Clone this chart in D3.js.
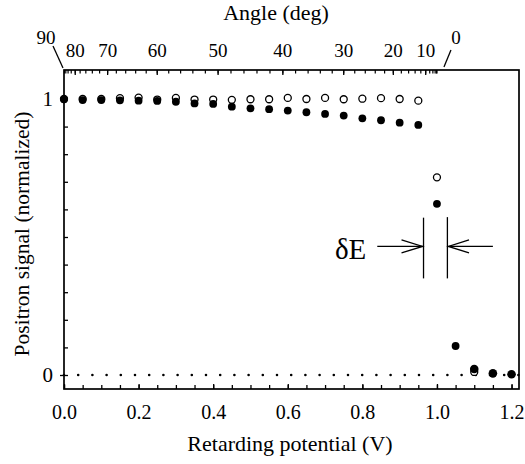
<!DOCTYPE html>
<html><head><meta charset="utf-8">
<script src="https://cdn.jsdelivr.net/npm/d3@7"></script>
<style>
body{margin:0;background:#fff;}
svg text{font-family:"Liberation Serif","Times New Roman","DejaVu Serif",serif !important;}
</style></head>
<body><svg id="c" width="525" height="464"></svg>
<script>
// ---- data ----
const filledV = [0,0.05,0.1,0.15,0.2,0.25,0.3,0.35,0.4,0.45,0.5,0.55,0.6,0.65,0.7,0.75,0.8,0.85,0.9,0.95,1.0,1.05,1.1,1.15,1.2];
const filledS = [0.999,0.996,0.996,0.995,0.994,0.993,0.990,0.984,0.982,0.972,0.966,0.963,0.958,0.952,0.946,0.940,0.930,0.923,0.914,0.906,0.620,0.105,0.022,0.006,0.003];
const openV = [0,0.05,0.1,0.15,0.2,0.25,0.3,0.35,0.4,0.45,0.5,0.55,0.6,0.65,0.7,0.75,0.8,0.85,0.9,0.95,1.0,1.1];
const openS = [1.0,1.0,1.0,1.003,1.005,0.998,1.004,0.998,0.998,0.997,0.999,0.999,1.004,1.0,1.004,0.999,1.001,1.003,1.0,0.994,0.716,0.011];
const xTicks = [0.0,0.2,0.4,0.6,0.8,1.0,1.2];
const xTickLabels = ["0.0","0.2","0.4","0.6","0.8","1.0","1.2"];
const yTicks = [0,1];
const angleTicks = [80,70,60,50,40,30,20,10];
const angleEnds = [90,0];
const cutoffV = 1.0; // angle axis: V = cutoffV * cos^2(angle)

const FONT = "Liberation Serif, Times New Roman, DejaVu Serif, serif";
const svg = d3.select("#c").attr("font-family",FONT);
const x = d3.scaleLinear().domain([0,1.22]).range([64,519]);
const y = d3.scaleLinear().domain([-0.0507,1.105]).range([389,70]);
const ang = a => x(cutoffV*Math.pow(Math.cos(a*Math.PI/180),2));

// frame
svg.append("rect").attr("x",64).attr("y",70).attr("width",455).attr("height",319)
  .attr("fill","none").attr("stroke","#000").attr("stroke-width",1.7);

// bottom axis
const bMinor = svg.append("g").attr("transform","translate(0,389)")
  .call(d3.axisBottom(x).tickValues(d3.range(0,1.2001,0.05)).tickSize(-4).tickFormat(""));
const bMajor = svg.append("g").attr("transform","translate(0,389)")
  .call(d3.axisBottom(x).tickValues(xTicks).tickSize(-5).tickPadding(14).tickFormat((d,i)=>xTickLabels[i]));
[bMinor,bMajor].forEach(g=>{g.attr("font-family",FONT); g.select(".domain").remove(); g.selectAll("line").attr("stroke-width",1.3);});
bMajor.selectAll("text").attr("font-size",20).attr("dy",null).attr("y",30);

// left axis
const lMinor = svg.append("g").attr("transform","translate(64,0)")
  .call(d3.axisLeft(y).tickValues(d3.range(0,1.0001,0.1)).tickSize(-4).tickFormat(""));
const lMajor = svg.append("g").attr("transform","translate(64,0)")
  .call(d3.axisLeft(y).tickValues(yTicks).tickSize(4).tickPadding(7).tickFormat(d3.format("d")));
[lMinor,lMajor].forEach(g=>{g.attr("font-family",FONT); g.select(".domain").remove(); g.selectAll("line").attr("stroke-width",1.3);});
lMajor.selectAll("text").attr("font-size",21);

// top angle axis
const topAx = svg.append("g");
topAx.selectAll("line.minor").data(d3.range(0,90,2)).join("line")
  .attr("x1",d=>ang(d)).attr("x2",d=>ang(d)).attr("y1",70).attr("y2",73.5)
  .attr("stroke","#000").attr("stroke-width",1.2);
topAx.selectAll("line.major").data(d3.range(10,90,10)).join("line")
  .attr("x1",d=>ang(d)).attr("x2",d=>ang(d)).attr("y1",70).attr("y2",75)
  .attr("stroke","#000").attr("stroke-width",1.3);
topAx.selectAll("text.lab").data(angleTicks).join("text")
  .attr("x",d=>ang(d)).attr("y",57).attr("text-anchor","middle")
  .attr("font-size",19).text(d=>d);
// end labels with slashes
topAx.append("text").attr("x",ang(90)-18).attr("y",44).attr("text-anchor","middle").attr("font-size",19).text(angleEnds[0]);
topAx.append("line").attr("x1",ang(90)-11).attr("y1",46).attr("x2",ang(90)-1).attr("y2",68).attr("stroke","#000").attr("stroke-width",1.3);
topAx.append("text").attr("x",ang(0)+19).attr("y",44).attr("text-anchor","middle").attr("font-size",19).text(angleEnds[1]);
topAx.append("line").attr("x1",ang(0)+14).attr("y1",50).attr("x2",ang(0)+7).attr("y2",67).attr("stroke","#000").attr("stroke-width",1.3);

// dotted zero line
svg.append("line").attr("x1",x(0)).attr("x2",519).attr("y1",y(0)).attr("y2",y(0))
  .attr("stroke","#000").attr("stroke-width",2.6).attr("stroke-linecap","round")
  .attr("stroke-dasharray","0 14.2");

// data
const openData = openV.map((v,i)=>({v,s:openS[i]}));
const filledData = filledV.map((v,i)=>({v,s:filledS[i]}));
svg.append("g").selectAll("circle").data(openData).join("circle")
  .attr("cx",d=>x(d.v)).attr("cy",d=>y(d.s)).attr("r",3.5)
  .attr("fill","#fff").attr("stroke","#000").attr("stroke-width",1.3);
svg.append("g").selectAll("circle").data(filledData).join("circle")
  .attr("cx",d=>x(d.v)).attr("cy",d=>y(d.s)).attr("r",d=>d.v>1.05?4.3:3.9)
  .attr("fill","#000");

// delta E annotation
const ann = svg.append("g").attr("stroke","#000").attr("stroke-width",1.3).attr("fill","none");
const vl = 0.964, vr = 1.028, yTop = 0.57, yBot = 0.35, ya = 0.466;
ann.append("line").attr("x1",x(vl)).attr("x2",x(vl)).attr("y1",y(yTop)).attr("y2",y(yBot));
ann.append("line").attr("x1",x(vr)).attr("x2",x(vr)).attr("y1",y(yTop+0.002)).attr("y2",y(yBot));
ann.append("line").attr("x1",x(0.84)).attr("x2",x(vl)-1).attr("y1",y(ya)).attr("y2",y(ya));
ann.append("polyline").attr("points",[[x(0.905),y(ya)-6.5],[x(vl)-1,y(ya)],[x(0.905),y(ya)+6.5]].join(" "));
ann.append("line").attr("x1",x(1.15)).attr("x2",x(vr)+1).attr("y1",y(ya)).attr("y2",y(ya));
ann.append("polyline").attr("points",[[x(1.086),y(ya)-6.5],[x(vr)+1,y(ya)],[x(1.086),y(ya)+6.5]].join(" "));
svg.append("text").attr("x",x(0.84)-11).attr("y",y(ya)+13).attr("text-anchor","end")
  .attr("font-size",29).text("δE");

// axis titles
svg.append("text").attr("x",276).attr("y",20).attr("text-anchor","middle").attr("font-size",22).text("Angle (deg)");
svg.append("text").attr("x",290).attr("y",451).attr("text-anchor","middle").attr("font-size",22).text("Retarding potential (V)");
svg.append("text").attr("transform","translate(29,234) rotate(-90)").attr("text-anchor","middle").attr("font-size",21.5).text("Positron signal (normalized)");
</script></body></html>
